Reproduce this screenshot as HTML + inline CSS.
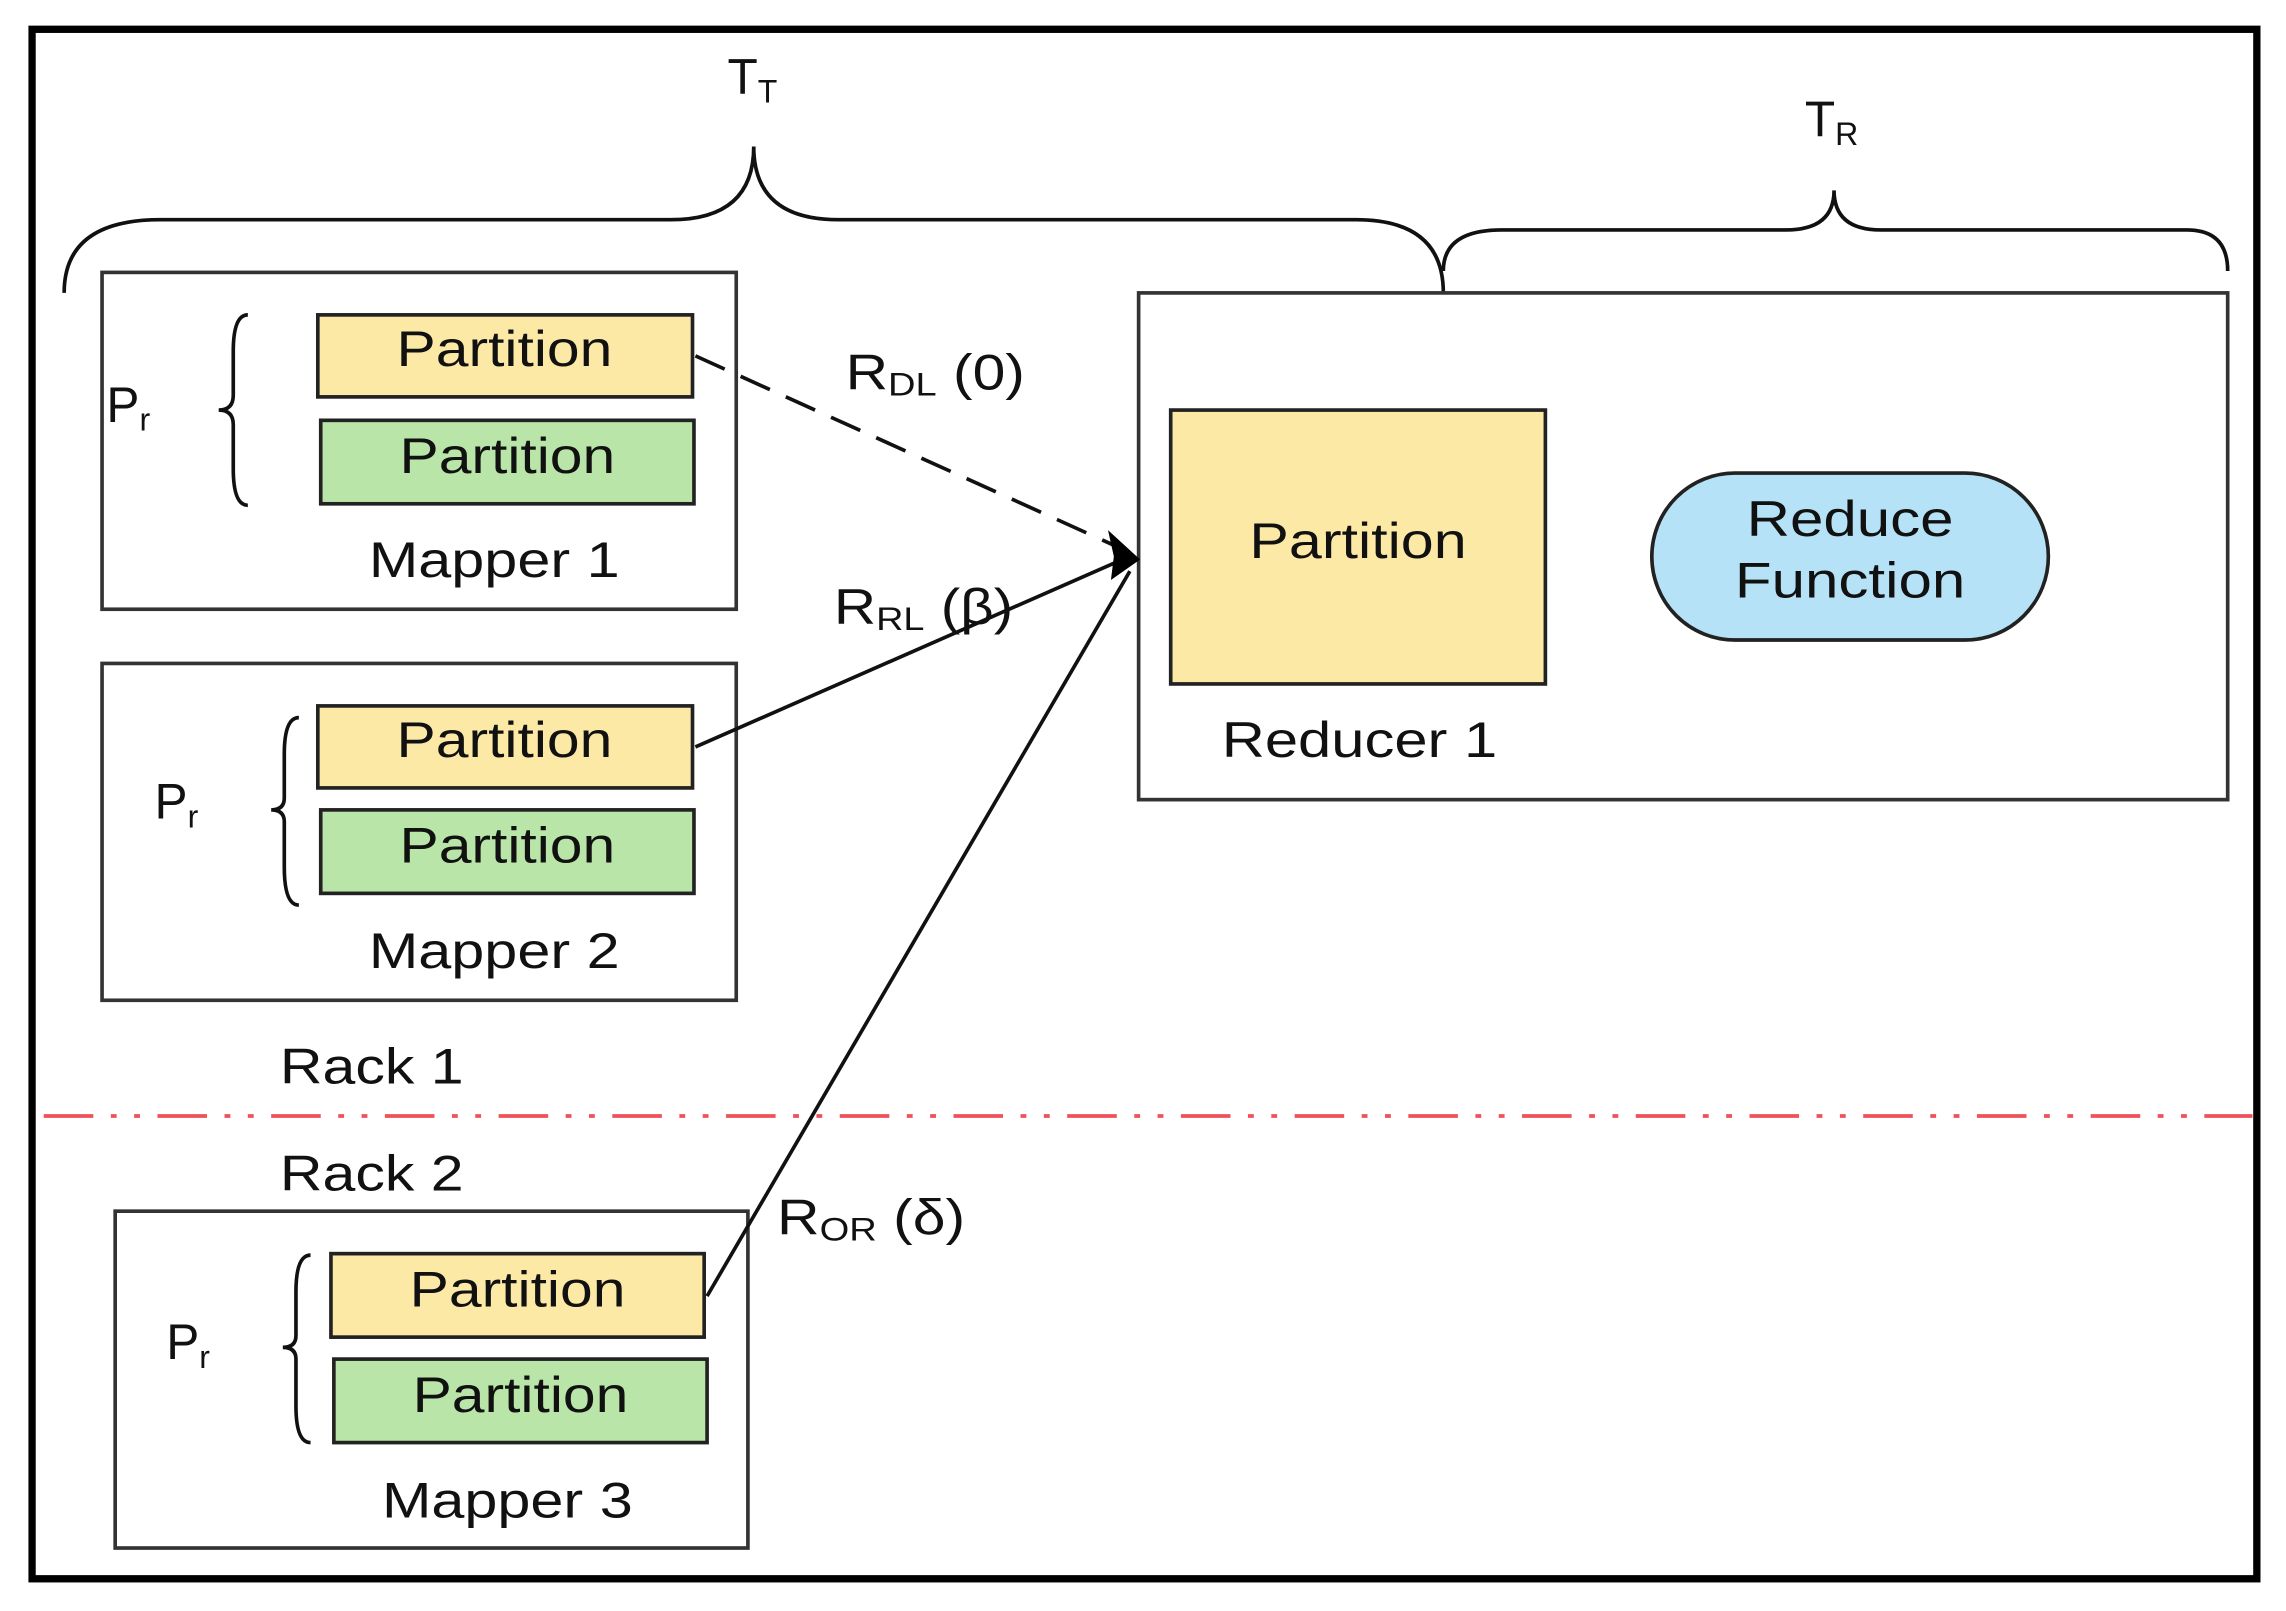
<!DOCTYPE html>
<html><head><meta charset="utf-8"><style>html,body{margin:0;padding:0;background:#fff}svg{display:block}</style></head>
<body>
<svg width="2286" height="1611" viewBox="0 0 1568 1100" preserveAspectRatio="none" xmlns="http://www.w3.org/2000/svg" font-family="Liberation Sans, sans-serif" fill="#111">
<rect x="0" y="0" width="1568" height="1100" fill="#fff"/>
<rect x="22" y="20" width="1526" height="1058" fill="none" stroke="#000" stroke-width="5"/>
<g fill="none" stroke="#111" stroke-width="2.5">
<path d="M44,200 Q44,150 110,150 L460,150 Q517,150 517,100 Q517,150 575,150 L930,150 Q990,150 990,200"/>
<path d="M990,185 Q990,157 1030,157 L1225,157 Q1258,157 1258,130 Q1258,157 1290,157 L1500,157 Q1528,157 1528,185"/>
<path d="M170,215 Q160,215 160,240 L160,270 Q160,280 150,280 Q160,280 160,290 L160,320 Q160,345 170,345"/>
<path d="M205,490 Q195,490 195,515 L195,545 Q195,553 186,553 Q195,553 195,561 L195,592 Q195,618 205,618"/>
<path d="M213,857 Q203,857 203,882 L203,912 Q203,920 194,920 Q203,920 203,928 L203,960 Q203,985 213,985"/>
</g>
<g stroke="#333" stroke-width="2.5" fill="none">
<rect x="70" y="186" width="435" height="230"/>
<rect x="70" y="453" width="435" height="230"/>
<rect x="79" y="827" width="434" height="230"/>
<rect x="781" y="200" width="747" height="346"/>
</g>
<g stroke="#222" stroke-width="2.5">
<rect x="218" y="215" width="257" height="56" fill="#fde9a6"/>
<rect x="220" y="287" width="256" height="57" fill="#b9e6a8"/>
<rect x="218" y="482" width="257" height="56" fill="#fde9a6"/>
<rect x="220" y="553" width="256" height="57" fill="#b9e6a8"/>
<rect x="227" y="856" width="256" height="57" fill="#fde9a6"/>
<rect x="229" y="928" width="256" height="57" fill="#b9e6a8"/>
<rect x="803" y="280" width="257" height="187" fill="#fde9a6"/>
<rect x="1133" y="323" width="272" height="114" rx="57" fill="#b5e2f6"/>
</g>
<line x1="30" y1="762" x2="1545" y2="762" stroke="#f0505a" stroke-width="2.5" stroke-dasharray="34,12,4,12,4,12"/>
<g stroke="#111" stroke-width="2.5" fill="none">
<line x1="477" y1="243" x2="770" y2="375" stroke-dasharray="22,12"/>
<line x1="477" y1="510" x2="770" y2="382"/>
<line x1="485" y1="885" x2="775" y2="390"/>
</g>
<path d="M782,382 L760,362 L764,380 L762,396 Z" fill="#000"/>
<g font-size="34">
<text x="272" y="250" textLength="148" lengthAdjust="spacingAndGlyphs">Partition</text>
<text x="274" y="323" textLength="148" lengthAdjust="spacingAndGlyphs">Partition</text>
<text x="272" y="517" textLength="148" lengthAdjust="spacingAndGlyphs">Partition</text>
<text x="274" y="589" textLength="148" lengthAdjust="spacingAndGlyphs">Partition</text>
<text x="281" y="892" textLength="148" lengthAdjust="spacingAndGlyphs">Partition</text>
<text x="283" y="964" textLength="148" lengthAdjust="spacingAndGlyphs">Partition</text>
<text x="857" y="381" textLength="149" lengthAdjust="spacingAndGlyphs">Partition</text>
<text x="1198" y="366" textLength="142" lengthAdjust="spacingAndGlyphs">Reduce</text>
<text x="1190" y="408" textLength="158" lengthAdjust="spacingAndGlyphs">Function</text>
<text x="253" y="394" textLength="172" lengthAdjust="spacingAndGlyphs">Mapper 1</text>
<text x="253" y="661" textLength="172" lengthAdjust="spacingAndGlyphs">Mapper 2</text>
<text x="262" y="1036" textLength="172" lengthAdjust="spacingAndGlyphs">Mapper 3</text>
<text x="838" y="517" textLength="189" lengthAdjust="spacingAndGlyphs">Reducer 1</text>
<text x="192" y="740" textLength="126" lengthAdjust="spacingAndGlyphs">Rack 1</text>
<text x="192" y="813" textLength="126" lengthAdjust="spacingAndGlyphs">Rack 2</text>
</g>
<g font-size="34">
<text x="73" y="288">P<tspan font-size="22" dy="6">r</tspan></text>
<text x="106" y="559">P<tspan font-size="22" dy="6">r</tspan></text>
<text x="114" y="928">P<tspan font-size="22" dy="6">r</tspan></text>
<text x="499" y="64">T<tspan font-size="22" dy="6">T</tspan></text>
<text x="1238" y="93">T<tspan font-size="22" dy="6">R</tspan></text>
<text x="580" y="266" textLength="123" lengthAdjust="spacingAndGlyphs">R<tspan font-size="22" dy="4">DL</tspan><tspan dy="-4"> (0)</tspan></text>
<text x="572" y="426" textLength="123" lengthAdjust="spacingAndGlyphs">R<tspan font-size="22" dy="4">RL</tspan><tspan dy="-4"> (β)</tspan></text>
<text x="533" y="843" textLength="129" lengthAdjust="spacingAndGlyphs">R<tspan font-size="22" dy="4">OR</tspan><tspan dy="-4"> (δ)</tspan></text>
</g>
</svg>
</body></html>
